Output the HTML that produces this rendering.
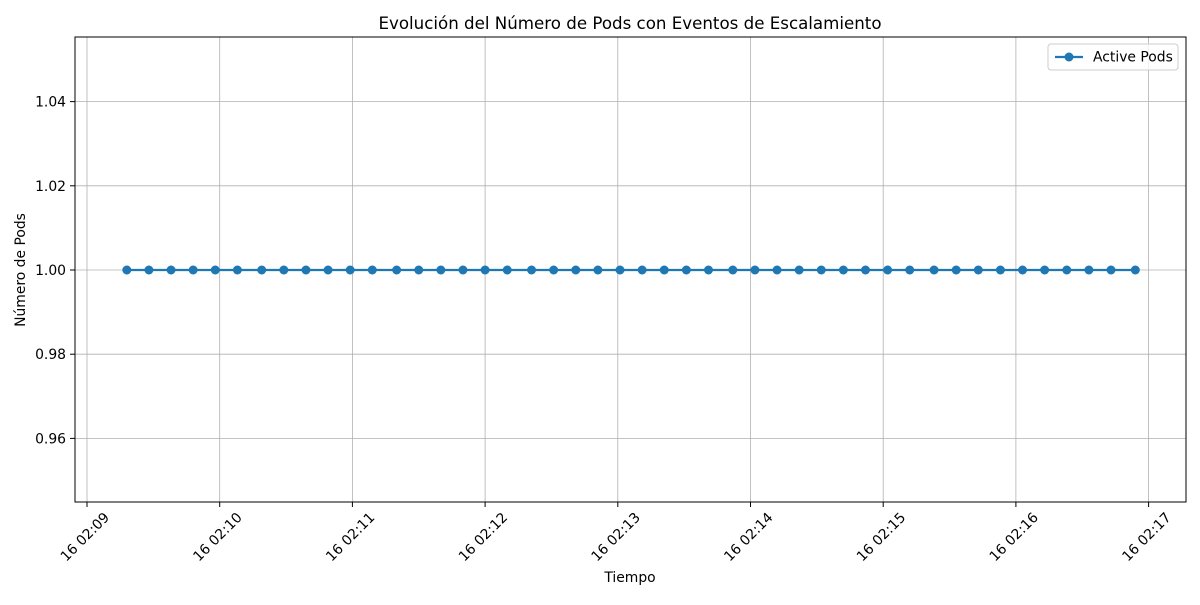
<!DOCTYPE html>
<html><head><meta charset="utf-8"><style>
body{margin:0;background:#fff;}
svg text{font-family:"DejaVu Sans","Liberation Sans",sans-serif;fill:#000;}
</style></head><body>
<svg id="chart" width="1200" height="600" xmlns="http://www.w3.org/2000/svg">
<rect width="1200" height="600" fill="#fff"/>
<text x="630" y="29" font-size="16.67" text-anchor="middle">Evolución del Número de Pods con Eventos de Escalamiento</text>
<g id="grid"></g><g id="xt"></g><g id="yt"></g><g id="series"></g>
<rect x="75" y="37" width="1111" height="465" fill="none" stroke="#000" stroke-width="1"/>
<text x="630" y="582" font-size="13.9" text-anchor="middle">Tiempo</text>
<text transform="translate(25,270) rotate(-90)" font-size="13.9" text-anchor="middle">Número de Pods</text>
<g>
<rect x="1048" y="44" width="130" height="26" rx="3" fill="#fff" fill-opacity="0.8" stroke="#ccc"/>
<line x1="1055" y1="57" x2="1083" y2="57" stroke="#1f77b4" stroke-width="2.2"/>
<circle cx="1069" cy="57" r="4.5" fill="#1f77b4"/>
<text x="1093" y="61.5" font-size="13.9">Active Pods</text>
</g>
</svg>
<script>
const times=["02:09:18","02:09:28","02:09:38","02:09:48","02:09:58","02:10:08","02:10:19","02:10:29","02:10:39","02:10:49","02:10:59","02:11:09","02:11:20","02:11:30","02:11:40","02:11:50","02:12:00","02:12:10","02:12:21","02:12:31","02:12:41","02:12:51","02:13:01","02:13:11","02:13:21","02:13:31","02:13:41","02:13:52","02:14:02","02:14:12","02:14:22","02:14:32","02:14:42","02:14:52","02:15:02","02:15:12","02:15:23","02:15:33","02:15:43","02:15:53","02:16:03","02:16:13","02:16:23","02:16:33","02:16:43","02:16:54"];
const pods=[1,1,1,1,1,1,1,1,1,1,1,1,1,1,1,1,1,1,1,1,1,1,1,1,1,1,1,1,1,1,1,1,1,1,1,1,1,1,1,1,1,1,1,1,1,1];
const xTicks=["02:09","02:10","02:11","02:12","02:13","02:14","02:15","02:16","02:17"];
const yTicks=[0.96,0.98,1.00,1.02,1.04];
const NS="http://www.w3.org/2000/svg";
function sec(t){const p=t.split(":").map(Number);return p[0]*3600+p[1]*60+(p[2]||0);}
const x0=sec("02:09");
function X(t){return 87+(sec(t)-x0)*132.7/60;}
function Y(v){return 270-(v-1)*4210;}
function mk(tag,attrs,parent){const e=document.createElementNS(NS,tag);for(const k in attrs)e.setAttribute(k,attrs[k]);document.getElementById(parent).appendChild(e);return e;}
xTicks.forEach(t=>{const x=X(t);
 const g=mk("line",{x1:x,x2:x,y1:37,y2:502,stroke:"#b0b0b0","stroke-width":0.8},"grid");
 
 
 mk("line",{x1:x,x2:x,y1:502,y2:507,stroke:"#000"},"xt");
 const cx=x-2;
 const l=mk("text",{x:cx,y:541.5,"font-size":13.9,"text-anchor":"middle",transform:`rotate(-45 ${cx} 537)`},"xt");
 l.textContent="16 "+t;
 
 
});
yTicks.forEach(v=>{const y=Y(v);
 const g=mk("line",{x1:75,x2:1186,y1:y,y2:y,stroke:"#b0b0b0","stroke-width":0.8},"grid");
 
 
 mk("line",{x1:70,x2:75,y1:y,y2:y,stroke:"#000"},"yt");
 const l=mk("text",{x:66,y:y+5,"font-size":13.9,"text-anchor":"end"},"yt");
 l.textContent=v.toFixed(2);
 
 
});
const line=mk("polyline",{points:times.map((t,i)=>X(t)+","+Y(pods[i])).join(" "),fill:"none",stroke:"#1f77b4","stroke-width":2.2},"series");


times.forEach((t,i)=>{const c=mk("circle",{cx:X(t),cy:Y(pods[i]),r:4.5,fill:"#1f77b4"},"series");
 
 
});
</script>
</body></html>
